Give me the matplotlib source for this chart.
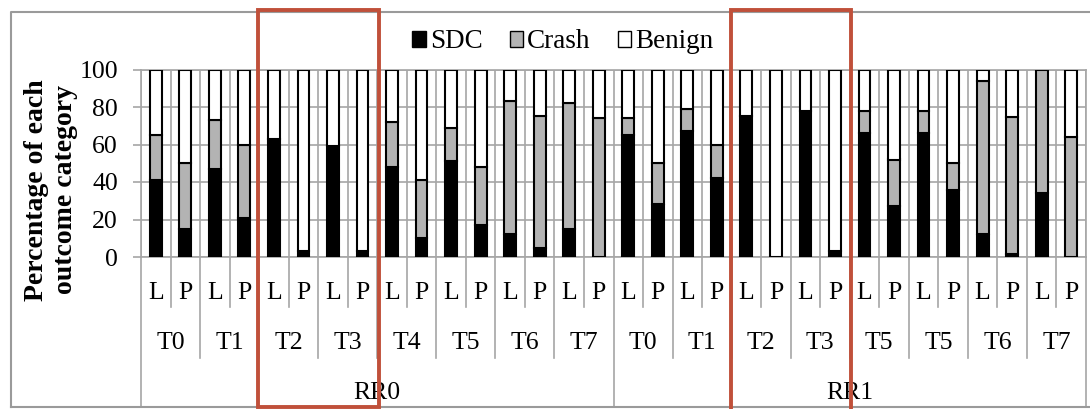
import matplotlib
matplotlib.use("Agg")
import matplotlib.pyplot as plt
import matplotlib.transforms as mtransforms
from matplotlib.patches import Rectangle
from matplotlib.lines import Line2D
import numpy as np

plt.rcParams['font.family'] = ['Liberation Serif', 'DejaVu Serif']

# ---------------- data ----------------
rr_labels = ["RR0", "RR1"]
t_labels = ["T0", "T1", "T2", "T3", "T4", "T5", "T6", "T7",
            "T0", "T1", "T2", "T3", "T5", "T5", "T6", "T7"]
lp_labels = ["L", "P"] * 16
series_names = ["SDC", "Crash", "Benign"]
sdc = [41, 15, 47, 21, 63, 3, 59, 3, 48, 10, 51, 17, 12, 5, 15, 0,
       65, 28, 67, 42, 75, 0, 78, 3, 66, 27, 66, 36, 12, 1.5, 34, 0]
crash = [24, 35, 26, 39, 0, 0, 0, 0, 24, 31, 18, 31, 71, 70, 67, 74,
         9, 22, 12, 18, 0, 0, 0, 0, 12, 25, 12, 14, 82, 73, 66, 64]
benign = [35, 50, 27, 40, 37, 97, 41, 97, 28, 59, 31, 52, 17, 25, 18, 26,
          26, 50, 21, 40, 25, 100, 22, 97, 22, 48, 22, 50, 6, 25.5, 0, 36]
colors = ["#000000", "#b3b3b3", "#ffffff"]
yticks = [0, 20, 40, 60, 80, 100]
highlight_spans = [(4, 8), (20, 24)]  # category index ranges boxed in red

# ---------------- figure ----------------
W, H = 1090, 409
fig = plt.figure(figsize=(W / 100, H / 100), dpi=100)
ax_left, ax_right, ax_top, ax_bot = 141, 1086, 69.5, 257
ax = fig.add_axes([ax_left / W, 1 - ax_bot / H, (ax_right - ax_left) / W, (ax_bot - ax_top) / H])

n = len(sdc)
x = np.arange(n) + 0.5
bw = 0.4
bottom = np.zeros(n)
for name, vals, c in zip(series_names, [sdc, crash, benign], colors):
    vals = np.array(vals, dtype=float)
    ax.bar(x, vals, bw, bottom=bottom, color=c, edgecolor="black", linewidth=1.5, label=name, zorder=3)
    bottom += vals

grid_c = "#a6a6a6"
ax.set_xlim(0, n)
ax.set_ylim(0, 100)
ax.set_yticks(yticks)
ax.set_xticks(np.arange(n + 1))
ax.set_xticklabels([])
ax.tick_params(axis="x", length=0)
ax.tick_params(axis="y", length=5.5, width=1.2, color=grid_c, pad=11, labelsize=18.5)
ax.grid(True, color=grid_c, linewidth=1.2, zorder=0)
ax.set_axisbelow(True)
for s in ax.spines.values():
    s.set_color(grid_c)
    s.set_linewidth(1.2)

# ---------------- category table below axis ----------------
trans = mtransforms.blended_transform_factory(ax.transData, fig.transFigure)
fy = lambda p: 1 - p / H
for i in range(n + 1):
    if i % 16 == 0:
        yend = 407
    elif i % 2 == 0:
        yend = 358
    else:
        yend = 307
    fig.add_artist(Line2D([i, i], [fy(ax_bot), fy(yend)], transform=trans, color=grid_c, linewidth=1.2))
for i, lab in enumerate(lp_labels):
    fig.text(i + 0.5, fy(293), lab, transform=trans, ha="center", va="center", fontsize=18.5)
for j, lab in enumerate(t_labels):
    fig.text(2 * j + 1, fy(343), lab, transform=trans, ha="center", va="center", fontsize=18.5)
for k, lab in enumerate(rr_labels):
    fig.text(16 * k + 8, fy(393), lab, transform=trans, ha="center", va="center", fontsize=18.5)

# outer chart border
border_c = "#9a9a9a"
fig.add_artist(Line2D([11 / W, 11 / W, 1.0], [fy(407), fy(12), fy(12)], transform=fig.transFigure,
                      color=border_c, linewidth=1.5))
fig.add_artist(Line2D([11 / W, 1.0], [fy(407), fy(407)], transform=fig.transFigure,
                      color=border_c, linewidth=1.5))

# y label
fig.text(51 / W, fy(190), "Percentage of each\noutcome category", rotation=90, ha="center", va="center",
         fontsize=20, fontweight="bold", linespacing=1.25, multialignment="center")

# legend
handles = [Rectangle((0, 0), 1, 1, facecolor=c, edgecolor="black", linewidth=1.0) for c in colors]
fig.legend(handles, series_names, loc="center", bbox_to_anchor=(563 / W, fy(42)), ncol=3, frameon=False,
           fontsize=19.5, handlelength=0.5, handleheight=0.5, handletextpad=0.15, columnspacing=1.0,
           borderpad=0)

# red highlight boxes
red = "#c0503a"
for (a, b), ybot in zip(highlight_spans, [407, 420]):
    fig.add_artist(Rectangle((a - 0.03, fy(ybot)), (b - a) + 0.08, fy(10) - fy(ybot), transform=trans,
                             fill=False, edgecolor=red, linewidth=2.8, zorder=10, clip_on=False))

fig.savefig("out.png", dpi=100)
